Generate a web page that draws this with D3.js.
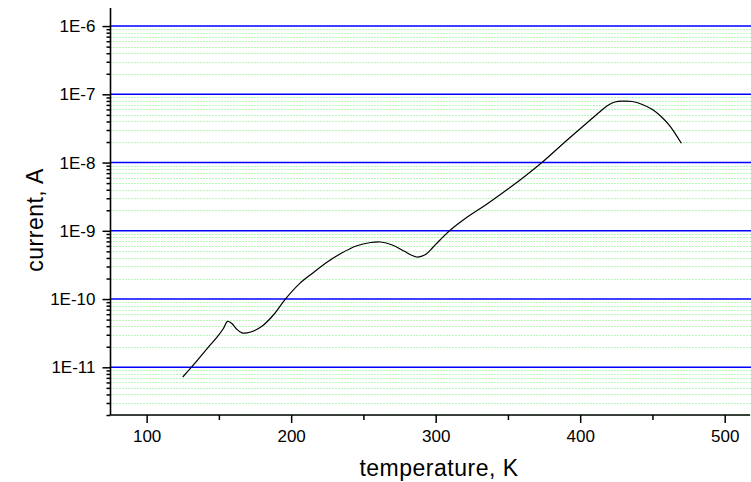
<!DOCTYPE html>
<html>
<head>
<meta charset="utf-8">
<script src="https://cdn.jsdelivr.net/npm/d3@7"></script>
<style>
  html, body { margin: 0; padding: 0; background: #ffffff; }
  svg { display: block; }
  text { font-family: "Liberation Sans", Arial, sans-serif; fill: #000; }
</style>
</head>
<body>
<svg id="chart" width="751" height="482"></svg>
<script>
// ---- data ----
const temperature = [125, 133, 142, 149, 153, 156, 159, 162, 166, 172, 180, 188, 196, 206, 215, 225, 235, 245, 255, 262, 270, 278, 287, 293, 298, 303, 310, 320, 335, 350, 362, 373.5, 391, 407, 413, 419, 424, 430, 436, 443, 450, 456, 462, 470];
const current = [7.21e-12, 1.12e-11, 1.90e-11, 2.81e-11, 3.67e-11, 4.72e-11, 4.37e-11, 3.67e-11, 3.19e-11, 3.29e-11, 4.03e-11, 5.94e-11, 1.0e-10, 1.70e-10, 2.41e-10, 3.49e-10, 4.73e-10, 5.99e-10, 6.74e-10, 6.86e-10, 6.20e-10, 5.06e-10, 4.13e-10, 4.50e-10, 5.70e-10, 7.34e-10, 1.02e-9, 1.49e-9, 2.43e-9, 4.10e-9, 6.36e-9, 1.0e-8, 2.14e-8, 4.21e-8, 5.42e-8, 6.86e-8, 7.72e-8, 7.93e-8, 7.85e-8, 7.10e-8, 6.00e-8, 4.73e-8, 3.44e-8, 1.92e-8];
const xMajorTicks = [100, 200, 300, 400, 500];
const xMinorTicks = [150, 250, 350, 450];
const yMajorTicks = [1e-11, 1e-10, 1e-9, 1e-8, 1e-7, 1e-6];
const yTickLabels = ["1E-11", "1E-10", "1E-9", "1E-8", "1E-7", "1E-6"];
const xTitle = "temperature, K";
const yTitle = "current, A";

// ---- scales ----
const svg = d3.select("#chart");
const pL = 110.5, pR = 750, pT = 8, pB = 415;
const x = d3.scaleLinear().domain([75, 517.5]).range([pL, pR]);
const y = d3.scaleLog().domain([2e-12, 1.84e-6]).range([pB, pT]);

const yMinorTicks = [];
for (let e = -12; e <= -6; e++) {
  for (let k = 2; k <= 9; k++) {
    const v = k * Math.pow(10, e);
    if (v >= y.domain()[0] * 0.999 && v <= y.domain()[1]) yMinorTicks.push(v);
  }
}

// ---- grid ----
const grid = svg.append("g");
grid.selectAll("line.minor").data(yMinorTicks).join("line")
  .attr("x1", pL).attr("x2", 751)
  .attr("y1", d => Math.round(y(d)) + 0.5).attr("y2", d => Math.round(y(d)) + 0.5)
  .attr("stroke", "#70f070").attr("stroke-width", 1).attr("stroke-dasharray", "1,2");
grid.selectAll("line.major").data(yMajorTicks).join("line")
  .attr("x1", pL).attr("x2", 751)
  .attr("y1", d => y(d)).attr("y2", d => y(d))
  .attr("stroke", "#0000ff").attr("stroke-width", 1.4);

// ---- curve ----
const line = d3.line()
  .x((d, i) => x(temperature[i]))
  .y((d, i) => y(current[i]))
  .curve(d3.curveCatmullRom.alpha(0.5));
svg.append("path").datum(current)
  .attr("d", line).attr("fill", "none")
  .attr("stroke", "#000").attr("stroke-width", 1.2);

// ---- axes ----
const yAxis = svg.append("g").attr("transform", `translate(${pL},0)`)
  .call(d3.axisLeft(y).tickValues(yMajorTicks).tickSize(8).tickPadding(7)
    .tickFormat((d, i) => yTickLabels[i]));
const yAxisMinor = svg.append("g").attr("transform", `translate(${pL},0)`)
  .call(d3.axisLeft(y).tickValues(yMinorTicks).tickSize(4).tickFormat(""));
const xAxis = svg.append("g").attr("transform", `translate(0,${pB})`)
  .call(d3.axisBottom(x).tickValues(xMajorTicks).tickSize(8).tickPadding(7)
    .tickFormat(d3.format("d")));
const xAxisMinor = svg.append("g").attr("transform", `translate(0,${pB})`)
  .call(d3.axisBottom(x).tickValues(xMinorTicks).tickSize(5).tickFormat(""));

[yAxis, yAxisMinor, xAxis, xAxisMinor].forEach(g => {
  g.select(".domain").attr("stroke", "#000").attr("stroke-width", 1.6);
  g.selectAll(".tick line").attr("stroke", "#000").attr("stroke-width", 1.5);
  g.selectAll("text").attr("font-size", 17).attr("font-family", "'Liberation Sans', Arial, sans-serif");
});
yAxis.select(".domain").attr("d", `M0,${pT}V${pB}`);
yAxisMinor.select(".domain").remove();
xAxis.select(".domain").attr("d", `M${pL},0H${pR}`);
xAxisMinor.select(".domain").remove();

// ---- titles ----
svg.append("text").attr("x", 439).attr("y", 476)
  .attr("text-anchor", "middle").attr("font-size", 23).attr("letter-spacing", 0.5).text(xTitle);
svg.append("text").attr("transform", "translate(43,220) rotate(-90)")
  .attr("text-anchor", "middle").attr("font-size", 23).attr("letter-spacing", 0.5).text(yTitle);
</script>
</body>
</html>
